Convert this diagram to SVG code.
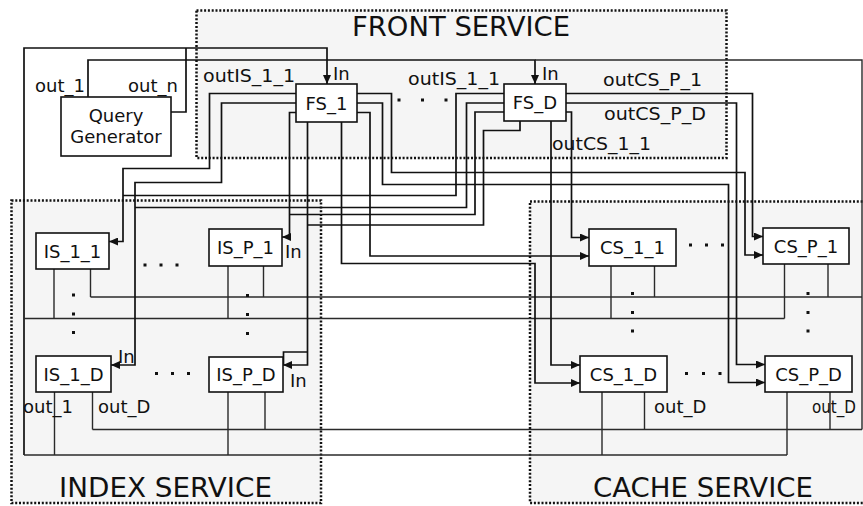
<svg xmlns="http://www.w3.org/2000/svg" width="863" height="506" viewBox="0 0 863 506">
<style>
.cont{fill:#f5f5f5;stroke:#111;stroke-width:2.5;stroke-dasharray:2 1.8}
.box{fill:#fff;stroke:#111;stroke-width:1.6}
.w{fill:none;stroke:#111;stroke-width:1.7}
.b{fill:none;stroke:#2a2a2a;stroke-width:1.4}
.a{marker-end:url(#ah)}
text{font-family:"DejaVu Sans","Liberation Sans",sans-serif;fill:#111}
.t{font-size:18px}
.c{text-anchor:middle}
.big{font-size:26px}
.dot{fill:#111}
</style>
<defs>
<marker id="ah" markerUnits="userSpaceOnUse" markerWidth="9" markerHeight="8" refX="9" refY="4" orient="auto">
<path d="M0,0 L9,4 L0,8 z" fill="#111"/>
</marker>
</defs>
<rect width="863" height="506" fill="#fff"/>

<g id="front-service">
<rect class="cont" x="196.5" y="10.5" width="530" height="147.5"/>
<text class="big" x="352" y="36" textLength="218" lengthAdjust="spacingAndGlyphs">FRONT SERVICE</text>
</g>
<g id="index-service">
<rect class="cont" x="11.5" y="200.5" width="309.5" height="302.5"/>
<text class="big" x="59" y="497" textLength="213" lengthAdjust="spacingAndGlyphs">INDEX SERVICE</text>
</g>
<g id="cache-service">
<rect class="cont" x="530" y="201.5" width="350" height="301.5"/>
<text class="big" x="593" y="497" textLength="220" lengthAdjust="spacingAndGlyphs">CACHE SERVICE</text>
</g>

<g id="connectors">
<path class="w a" d="M24,455 V48 H327 V84"/>
<path class="w" d="M171,112 H186 V48"/>
<path class="w a" d="M88,97 V60 H535 V84"/>
<path class="b" d="M535,60 H862 V429.5"/>
<path class="b" d="M24,318.5 H784.5"/>
<path class="b" d="M90.5,297 H862"/>
<path class="b" d="M24,455 H787"/>
<path class="b" d="M92.5,429.5 H862"/>
<path class="b" d="M54,269 V318.5 M90.5,269 V297"/>
<path class="b" d="M228,266 V318.5 M263.5,266 V297"/>
<path class="b" d="M54.5,392 V455 M92.5,392 V429.5"/>
<path class="b" d="M228,392 V455 M265,392 V429.5"/>
<path class="b" d="M611,266 V318.5 M654.5,266 V297"/>
<path class="b" d="M784.5,264 V318.5 M828,264 V297"/>
<path class="b" d="M602,392 V455 M644.5,392 V429.5"/>
<path class="b" d="M787,392 V455 M830,392 V429.5"/>
<path class="w a" d="M296,93.5 H209.5 V168.5 H123 V241.5 H109"/>
<path class="w a" d="M296,103 H221.5 V182.5 H135 V365 H111"/>
<path class="w a" d="M296,112.5 H289.5 V237 H282"/>
<path class="w a" d="M307.5,122 V365 H283"/>
<path class="w" d="M307.5,352 H283.5 V365"/>
<path class="w a" d="M357,93.5 H391.5 V172.5 H745 V255 H763"/>
<path class="w a" d="M357,103 H382.5 V184.5 H728.5 V382.5 H765"/>
<path class="w a" d="M357,112.5 H370 V256 H589"/>
<path class="w a" d="M341.5,122 V263.5 H535 V383 H580"/>
<path class="w" d="M504,93.5 H456 V195.5 H123"/>
<path class="w" d="M504,103 H466.5 V207.5 H135"/>
<path class="w" d="M504,112 H475 V214.5 H289.5"/>
<path class="w" d="M520,121 V130.5 H483.5 V225 H307.5"/>
<path class="w a" d="M566,93.5 H752.5 V236.5 H763"/>
<path class="w a" d="M566,103 H736.5 V364.5 H765"/>
<path class="w a" d="M566,112 H571.5 V237.5 H589"/>
<path class="w a" d="M551,121 V365 H580"/>
</g>

<g id="labels">
<text class="t" x="35" y="92">out_1</text>
<text class="t" x="128" y="92">out_n</text>
<text class="t" x="203" y="82" textLength="92" lengthAdjust="spacingAndGlyphs">outIS_1_1</text>
<text class="t" x="333" y="80">In</text>
<text class="t" x="408" y="85" textLength="92" lengthAdjust="spacingAndGlyphs">outIS_1_1</text>
<text class="t" x="542" y="80">In</text>
<text class="t" x="603" y="86" textLength="99" lengthAdjust="spacingAndGlyphs">outCS_P_1</text>
<text class="t" x="604" y="120" textLength="102" lengthAdjust="spacingAndGlyphs">outCS_P_D</text>
<text class="t" x="552" y="150" textLength="99" lengthAdjust="spacingAndGlyphs">outCS_1_1</text>
<text class="t" x="285" y="258">In</text>
<text class="t" x="118" y="363">In</text>
<text class="t" x="290" y="387">In</text>
<text class="t" x="23" y="413">out_1</text>
<text class="t" x="98" y="413">out_D</text>
<text class="t" x="654" y="413">out_D</text>
<text class="t" x="812" y="413" textLength="44" lengthAdjust="spacingAndGlyphs">out_D</text>
</g>

<g id="dots" class="dot">
<rect x="397.5" y="98.5" width="3" height="3"/><rect x="421" y="98.5" width="3" height="3"/><rect x="444.5" y="98.5" width="3" height="3"/>
<rect x="143.5" y="263.5" width="3" height="3"/><rect x="159.5" y="263.5" width="3" height="3"/><rect x="175.5" y="263.5" width="3" height="3"/>
<rect x="155" y="372" width="3" height="3"/><rect x="171" y="372" width="3" height="3"/><rect x="187" y="372" width="3" height="3"/>
<rect x="689" y="243.5" width="3" height="3"/><rect x="705" y="243.5" width="3" height="3"/><rect x="721" y="243.5" width="3" height="3"/>
<rect x="685" y="372" width="3" height="3"/><rect x="702" y="372" width="3" height="3"/><rect x="718.5" y="372" width="3" height="3"/>
<rect x="72" y="293.5" width="3" height="3"/><rect x="72" y="312.5" width="3" height="3"/><rect x="72" y="331" width="3" height="3"/>
<rect x="246" y="294" width="3" height="3"/><rect x="246" y="313" width="3" height="3"/><rect x="246" y="332" width="3" height="3"/>
<rect x="631" y="292" width="3" height="3"/><rect x="631" y="311" width="3" height="3"/><rect x="631" y="329.5" width="3" height="3"/>
<rect x="806.5" y="292" width="3" height="3"/><rect x="806.5" y="311" width="3" height="3"/><rect x="806.5" y="329.5" width="3" height="3"/>
</g>

<g id="query-generator">
<rect class="box" x="61" y="97" width="110" height="59"/>
<text class="t c" x="116" y="122">Query</text>
<text class="t c" x="116" y="143">Generator</text>
</g>
<g id="FS_1"><rect class="box" x="296" y="84" width="61" height="38"/><text class="t c" x="326.5" y="109.5">FS_1</text></g>
<g id="FS_D"><rect class="box" x="504" y="84" width="62" height="37"/><text class="t c" x="535" y="109">FS_D</text></g>
<g id="IS_1_1"><rect class="box" x="36" y="233" width="73" height="36"/><text class="t c" x="72.5" y="257.5">IS_1_1</text></g>
<g id="IS_P_1"><rect class="box" x="209" y="229" width="73" height="37"/><text class="t c" x="245.5" y="254">IS_P_1</text></g>
<g id="IS_1_D"><rect class="box" x="36" y="356" width="75" height="36"/><text class="t c" x="73.5" y="380.5">IS_1_D</text></g>
<g id="IS_P_D"><rect class="box" x="209" y="357" width="74" height="35"/><text class="t c" x="246" y="381">IS_P_D</text></g>
<g id="CS_1_1"><rect class="box" x="589" y="229" width="87" height="37"/><text class="t c" x="632.5" y="254">CS_1_1</text></g>
<g id="CS_P_1"><rect class="box" x="763" y="228" width="86" height="36"/><text class="t c" x="806" y="252.5">CS_P_1</text></g>
<g id="CS_1_D"><rect class="box" x="580" y="356" width="87" height="36"/><text class="t c" x="623.5" y="380.5">CS_1_D</text></g>
<g id="CS_P_D"><rect class="box" x="765" y="356" width="87" height="36"/><text class="t c" x="808.5" y="380.5">CS_P_D</text></g>
</svg>
